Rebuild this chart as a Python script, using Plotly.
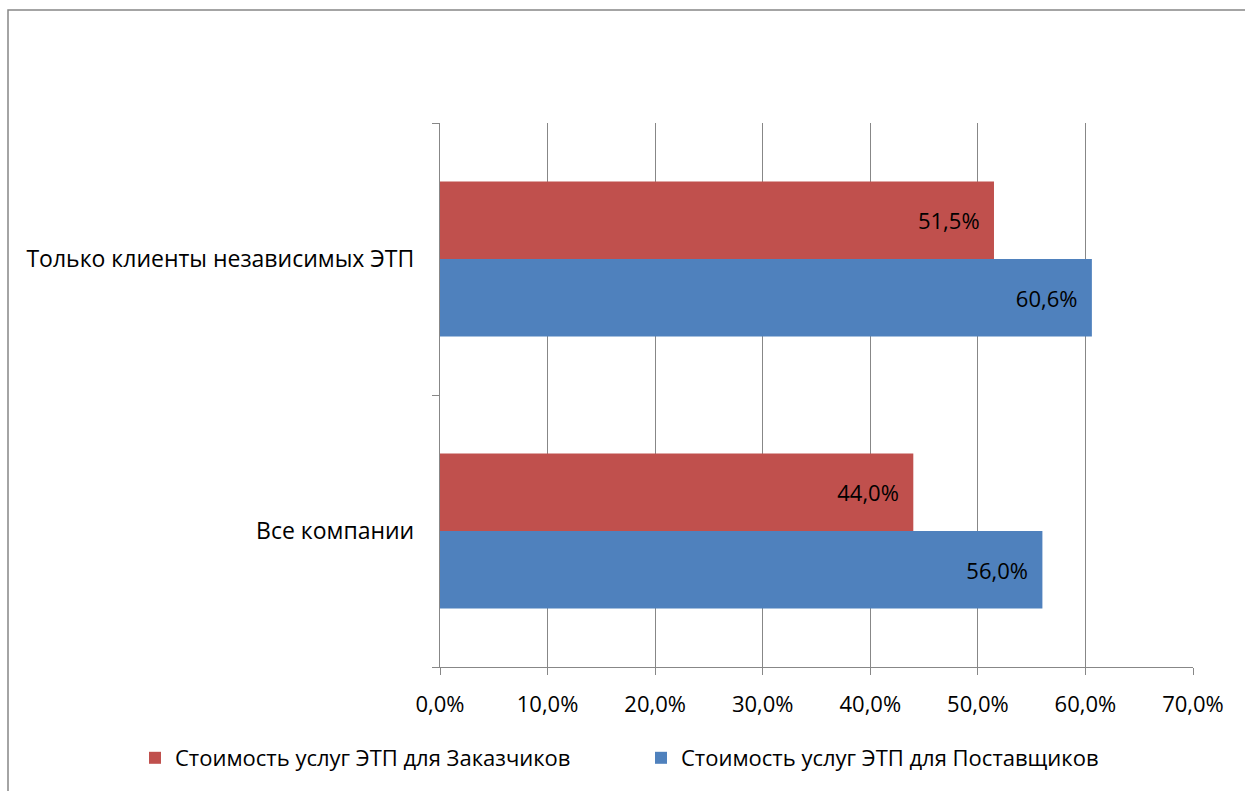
import plotly.graph_objects as go

categories = ["Все компании", "Только клиенты независимых ЭТП"]
series_names = ["Стоимость услуг ЭТП для Поставщиков", "Стоимость услуг ЭТП для Заказчиков"]
suppliers = [56.0, 60.6]
customers = [44.0, 51.5]
x_ticks = [0, 10, 20, 30, 40, 50, 60, 70]
x_tick_labels = ["0,0%", "10,0%", "20,0%", "30,0%", "40,0%", "50,0%", "60,0%", "70,0%"]

BLUE = "#4F81BD"
RED = "#C0504D"
GRID = "#878787"
FONT = "Open Sans"
FS = 22

fig = go.Figure()
fig.add_trace(go.Bar(
    y=categories, x=suppliers, orientation="h", name=series_names[0],
    marker=dict(color=BLUE, line=dict(width=0)),
    texttemplate="%{x:.1f}%\u00a0\u00a0", textposition="inside", insidetextanchor="end",
    textfont=dict(color="black", size=FS, family=FONT), cliponaxis=False,
))
fig.add_trace(go.Bar(
    y=categories, x=customers, orientation="h", name=series_names[1],
    marker=dict(color=RED, line=dict(width=0)),
    texttemplate="%{x:.1f}%\u00a0\u00a0", textposition="inside", insidetextanchor="end",
    textfont=dict(color="black", size=FS, family=FONT), cliponaxis=False,
))

L, R, T, B = 440, 52, 123, 124
W, H = 1245, 791
pw, ph = W - L - R, H - T - B

def px(x):
    return (x - L) / pw

def py(y):
    return (H - B - y) / ph

fig.update_layout(
    width=W, height=H,
    margin=dict(l=L, r=R, t=T, b=B, autoexpand=False),
    paper_bgcolor="white", plot_bgcolor="white",
    barmode="group", bargap=0.43, bargroupgap=0,
    separators=", ",
    font=dict(family=FONT, size=FS, color="black"),
    xaxis=dict(
        range=[0, 70], tickvals=x_ticks, ticktext=x_tick_labels,
        showgrid=True, gridcolor=GRID, gridwidth=1.3,
        showline=True, linecolor=GRID, linewidth=1.3,
        ticks="outside", ticklen=7, tickcolor=GRID, tickwidth=1.3,
        zeroline=False, tickfont=dict(size=FS, color="black"),
        ticklabelstandoff=10, fixedrange=True, automargin=False,
    ),
    yaxis=dict(
        showgrid=False, showline=True, linecolor=GRID, linewidth=1.3,
        ticks="outside", tickson="boundaries", ticklen=7, tickcolor=GRID, tickwidth=1.3,
        tickfont=dict(size=23, color="black"), ticklabelstandoff=20, fixedrange=True,
        automargin=False,
    ),
    legend=dict(
        orientation="h", x=px(135), xanchor="left", y=py(758), yanchor="middle",
        traceorder="reversed", font=dict(size=FS, color="black"),
        itemwidth=30, tracegroupgap=0, entrywidth=461,
    ),
    showlegend=True,
    shapes=[dict(
        type="rect", xref="paper", yref="paper",
        x0=px(8), x1=px(1260), y0=py(800), y1=py(10),
        line=dict(color=GRID, width=1.5), fillcolor="rgba(0,0,0,0)", layer="below",
    )],
)

fig.write_html("out.html", config=dict(displayModeBar=False))
